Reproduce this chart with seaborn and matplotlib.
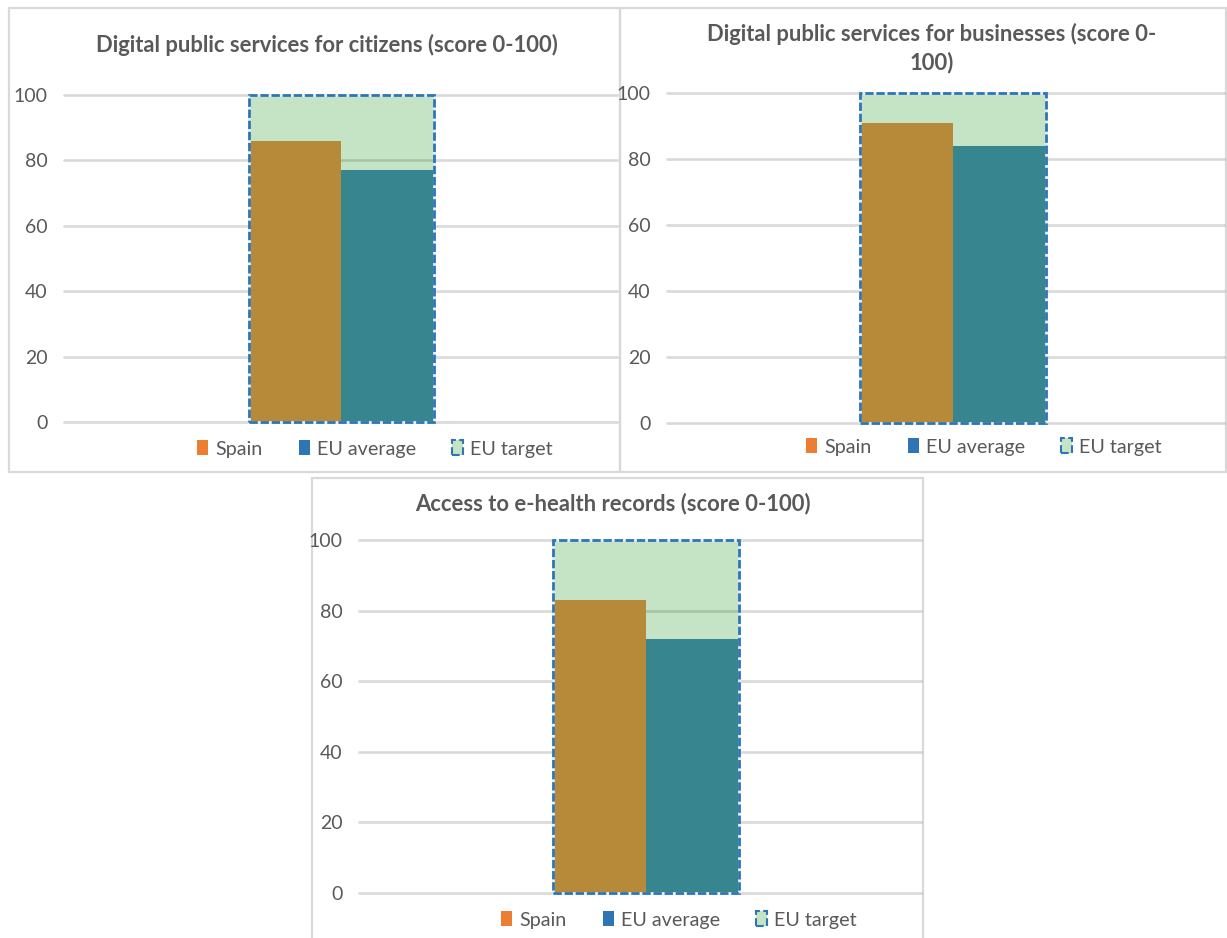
import matplotlib
matplotlib.use("Agg")
import matplotlib.pyplot as plt
import seaborn as sns
import pandas as pd
from matplotlib.patches import Patch, Rectangle

# ---- data ----
titles = ["Digital public services for citizens (score 0-100)",
          "Digital public services for businesses (score 0-\n100)",
          "Access to e-health records (score 0-100)"]
series = ["Spain", "EU average", "EU target"]
spain = [86, 91, 83]
eu_average = [77, 84, 72]
eu_target = [100, 100, 100]
yticks = [0, 20, 40, 60, 80, 100]

# ---- styling ----
C_SPAIN = "#B68A39"
C_EU = "#37868F"
C_TARGET = "#C5E4C5"
C_EDGE = "#2E75B6"
LEG_SPAIN = "#ED7D31"
LEG_EU = "#2E75B6"
TXT = "#595959"
FONT = ["Lato", "DejaVu Sans"]

sns.set_theme(style="white")
plt.rcParams["font.family"] = FONT

W, H = 1227, 938
fig = plt.figure(figsize=(W / 100, H / 100), dpi=100)
fig.patch.set_facecolor("white")

def fx(x):
    return x / W

def fy(y):
    return 1 - y / H

# panel layouts in pixels
borders = [(9, 8, 620, 472), (620, 8, 1226, 472), (312, 478, 923, 945)]
axes_px = [(64, 95, 617, 422), (667, 93, 1224, 423), (359, 540, 921, 893)]
bar_center_frac = [0.5018, 0.5135, 0.5107]
bar_width = [0.335, 0.334, 0.331]
title_px = [(327, 45), (932, 48), (613, 504)]
legend_px = [(375, 449), (984, 447), (679, 920)]

for b in borders:
    x0, y0, x1, y1 = b
    fig.add_artist(Rectangle((fx(x0), fy(y1)), fx(x1 - x0), (y1 - y0) / H,
                             transform=fig.transFigure, facecolor="none",
                             edgecolor="#D9D9D9", linewidth=1.6, zorder=0))

for i in range(3):
    x0, yt, x1, yb = axes_px[i]
    ax = fig.add_axes([fx(x0), fy(yb), fx(x1 - x0), (yb - yt) / H])
    ax.set_facecolor("none")
    bw = bar_width[i]

    tdf = pd.DataFrame({"cat": [""], "value": [eu_target[i]]})
    sns.barplot(data=tdf, x="cat", y="value", color=C_TARGET, saturation=1,
                width=bw, ax=ax, linewidth=0, zorder=1)

    df = pd.DataFrame({"cat": ["", ""], "series": series[:2],
                       "value": [spain[i], eu_average[i]]})
    sns.barplot(data=df, x="cat", y="value", hue="series", hue_order=series[:2],
                palette=[C_SPAIN, C_EU], saturation=1, width=bw, dodge=True,
                ax=ax, legend=False, linewidth=0, zorder=3)

    # dashed outline of target (drawn above bars)
    sns.barplot(data=tdf, x="cat", y="value", fill=False, width=bw, ax=ax,
                edgecolor="#E8F0F8", linewidth=2.0, zorder=4)
    sns.barplot(data=tdf, x="cat", y="value", fill=False, width=bw, ax=ax,
                edgecolor=C_EDGE, linewidth=2.0, linestyle=(0, (3, 1)), zorder=5)

    for p in ax.patches:
        p.set_clip_on(False)

    f = bar_center_frac[i]
    ax.set_xlim(-f, 1 - f)
    ax.set_ylim(0, 100)
    ax.set_yticks(yticks)
    ax.set_yticklabels([str(t) for t in yticks])
    ax.set_xticks([])
    ax.set_xlabel("")
    ax.set_ylabel("")
    for s in ax.spines.values():
        s.set_visible(False)
    ax.set_axisbelow(False)
    ax.yaxis.grid(True, color="black", alpha=0.14, linewidth=2.0, zorder=2)
    for gl in ax.get_ygridlines():
        gl.set_clip_on(False)
    ax.tick_params(axis="y", length=0, pad=12, labelsize=14, labelcolor=TXT)

    tx, ty = title_px[i]
    fig.text(fx(tx), fy(ty), titles[i], ha="center", va="center",
             fontsize=15.8, fontweight="bold", color=TXT, linespacing=1.35)

    handles = [Patch(facecolor=LEG_SPAIN, edgecolor="none"),
               Patch(facecolor=LEG_EU, edgecolor="none"),
               Patch(facecolor=C_TARGET, edgecolor=C_EDGE, linestyle="--", linewidth=1.5)]
    lx, ly = legend_px[i]
    fig.legend(handles, series, loc="center", bbox_to_anchor=(fx(lx), fy(ly)),
               ncol=3, frameon=False, fontsize=14.2, labelcolor=TXT,
               handlelength=0.55, handleheight=0.75, handletextpad=0.35,
               columnspacing=1.85)

fig.savefig("out.png", dpi=100, facecolor="white")
